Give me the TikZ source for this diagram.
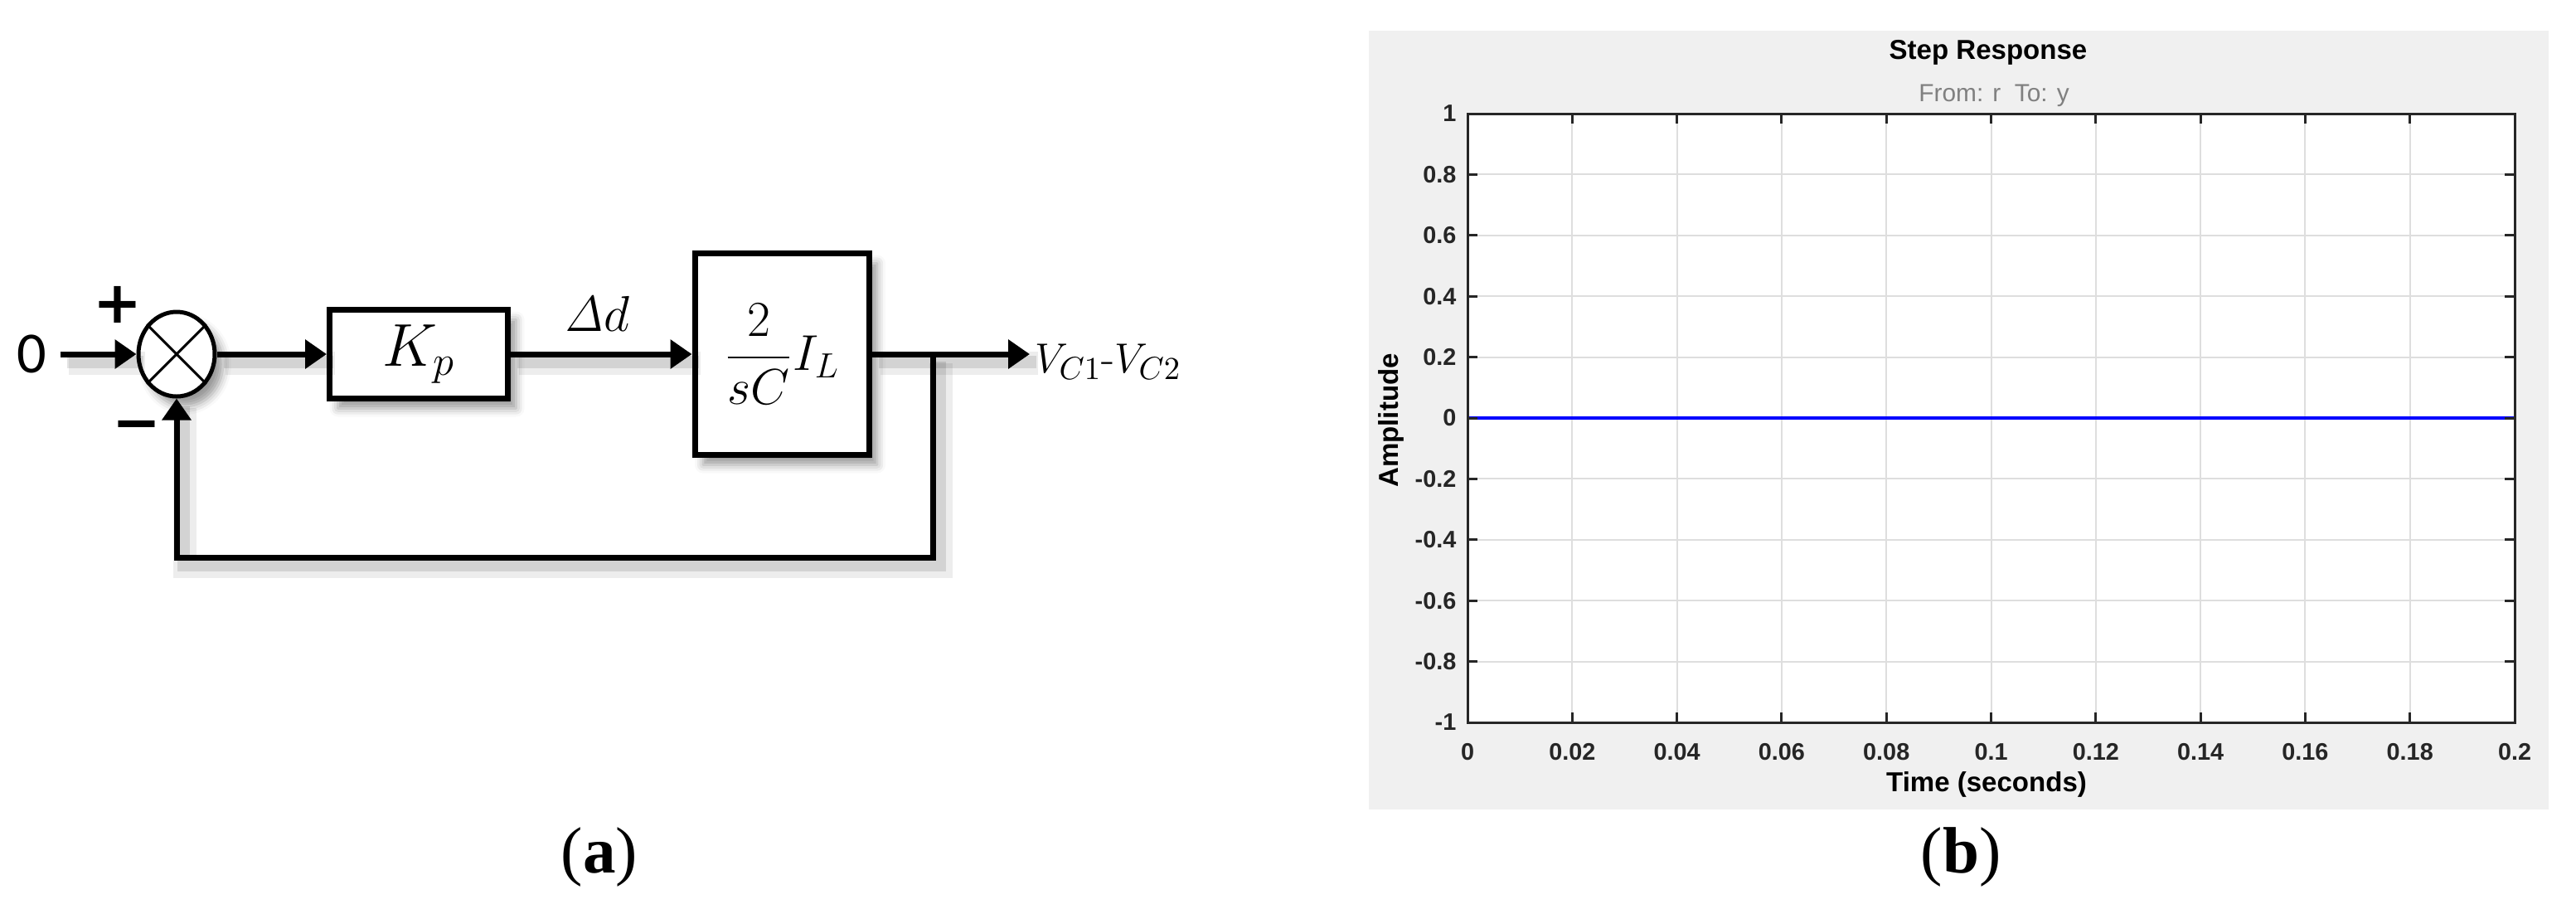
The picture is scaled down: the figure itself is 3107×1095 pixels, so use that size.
\documentclass[tikz,border=0pt]{standalone}
\usepackage[no-math]{fontspec}
\usetikzlibrary{arrows.meta,shapes.geometric,shadows.blur}
\newfontfamily\lsans{Liberation Sans}
\newfontfamily\lserif{Liberation Serif}
\newfontfamily\carl{Carlito}
\newfontfamily\djv{DejaVu Sans}
\definecolor{panelgray}{RGB}{240,240,240}
\definecolor{gridgray}{RGB}{222,222,222}
\definecolor{axgray}{RGB}{38,38,38}
\definecolor{subgray}{RGB}{128,128,128}
\definecolor{plotblue}{RGB}{0,0,255}
\begin{document}
\begin{tikzpicture}[x=0.1mm,y=-0.1mm,
  bshadow/.style={blur shadow={shadow xshift=1.0mm, shadow yshift=-1.2mm, shadow blur radius=1.0mm, shadow opacity=40}},
  blockbox/.style={draw, line width=0.7mm, fill=white, inner sep=0pt, bshadow},
  lshadow/.style={preaction={draw=black, arrows=-, opacity=0.07, line width=2.8mm, transform canvas={shift={(1.0mm,-1.1mm)}}},
                  preaction={draw=black, arrows=-, opacity=0.11, line width=1.5mm, transform canvas={shift={(0.8mm,-0.9mm)}}}},
  sig/.style={line width=0.7mm, -{Triangle[length=2.6mm,width=3.4mm]}, lshadow},
  gridl/.style={draw=gridgray, line width=0.2mm},
  axl/.style={draw=axgray, line width=0.3mm},
  tickl/.style={font=\lsans\bfseries\fontsize{8.2}{10}\selectfont, text=axgray, inner sep=0pt},
  lab/.style={font=\lsans\bfseries\fontsize{9.4}{11}\selectfont, inner sep=0pt},
  captext/.style={font=\lserif\fontsize{22.5}{27}\selectfont, inner sep=0pt}
]
\useasboundingbox (0,0) rectangle (3107,1095);

% ---------------- (a) block diagram ----------------
\node[font=\carl\fontsize{20}{24}\selectfont, inner sep=0pt] (in0) at (38,427) {0};
\node[font=\djv\bfseries\fontsize{20}{24}\selectfont, inner sep=0pt] (plus) at (142,367) {+};
\node[font=\djv\bfseries\fontsize{20}{24}\selectfont, inner sep=0pt] (minus) at (165,520) {−};

\node[draw, ellipse, line width=0.5mm, minimum width=9.2mm, minimum height=10.2mm, inner sep=0pt, fill=white, bshadow] (sum) at (213,427) {};
\draw[line width=0.3mm] (sum.45) -- (sum.225) (sum.135) -- (sum.315);

\node[blockbox, minimum width=21.5mm, minimum height=10.7mm, font=\fontsize{22}{26}\selectfont] (kp) at (505,427) {$K_p$};
\node[font=\fontsize{17}{20}\selectfont, inner sep=0pt] (dd) at (720,378) {$\mathit{\Delta} d$};
\node[blockbox, minimum width=21mm, minimum height=24.3mm, font=\fontsize{18}{22}\selectfont] (g) at (943,427) {$\displaystyle\frac{2}{sC}I_L$};

\coordinate (otip) at (1242,427);
\node[anchor=base west, font=\fontsize{15}{18}\selectfont, inner sep=0pt] (vout) at (1248,449) {$V_{C1}$-$V_{C2}$};

\coordinate (br) at (1125,427);
\coordinate (fb) at (213,672);

\draw[sig] ([xshift=1.6mm]in0.east) -- (sum.west);
\draw[sig] (sum.east) -- (kp.west);
\draw[sig] (kp.east) -- (g.west);
\draw[sig] (g.east) -- (otip);
\draw[sig] (br) -- (br |- fb) -- (fb) -- (sum.south);

% ---------------- (b) step response ----------------
\fill[panelgray] (1651,37) rectangle (3074,976);
\fill[white] (1770,137) rectangle (3033,871);
\foreach \i in {1,...,9} {
  \draw[gridl] ({1770+126.3*\i},137) -- ({1770+126.3*\i},871);
  \draw[gridl] (1770,{137+73.4*\i}) -- (3033,{137+73.4*\i});
}
\draw[plotblue, line width=0.35mm] (1770,504) -- (3033,504);
\foreach \i in {1,...,9} {
  \draw[axl] ({1770+126.3*\i},871) -- ({1770+126.3*\i},859);
  \draw[axl] ({1770+126.3*\i},137) -- ({1770+126.3*\i},149);
  \draw[axl] (1770,{137+73.4*\i}) -- (1782,{137+73.4*\i});
  \draw[axl] (3033,{137+73.4*\i}) -- (3021,{137+73.4*\i});
}
\draw[axl] (1770,137) rectangle (3033,871);

\foreach \lab [count=\i from 0] in {0,0.02,0.04,0.06,0.08,0.1,0.12,0.14,0.16,0.18,0.2}
  \node[tickl] (xt\i) at ({1770+126.3*\i},907) {\lab};
\foreach \lab [count=\j from 0] in {1,0.8,0.6,0.4,0.2,0,-0.2,-0.4,-0.6,-0.8,-1}
  \node[tickl, anchor=east] (yt\j) at (1757,{137+73.4*\j}) {\lab};

\node[lab, anchor=base] (title) at (2398,71) {Step Response};
\node[font=\lsans\fontsize{8.5}{10}\selectfont, text=subgray, anchor=base, inner sep=0pt] (fromto) at (2405,122) {From: r\ \ To: y};
\node[lab, anchor=base] (xlab) at (2396,954) {Time (seconds)};
\node[lab, rotate=90] (ylab) at (1678,507) {Amplitude};

% ---------------- captions ----------------
\node[captext] (capa) at (723,1033) {(\textbf{a})};
\node[captext] (capb) at (2365,1033) {(\textbf{b})};
\end{tikzpicture}
\end{document}
